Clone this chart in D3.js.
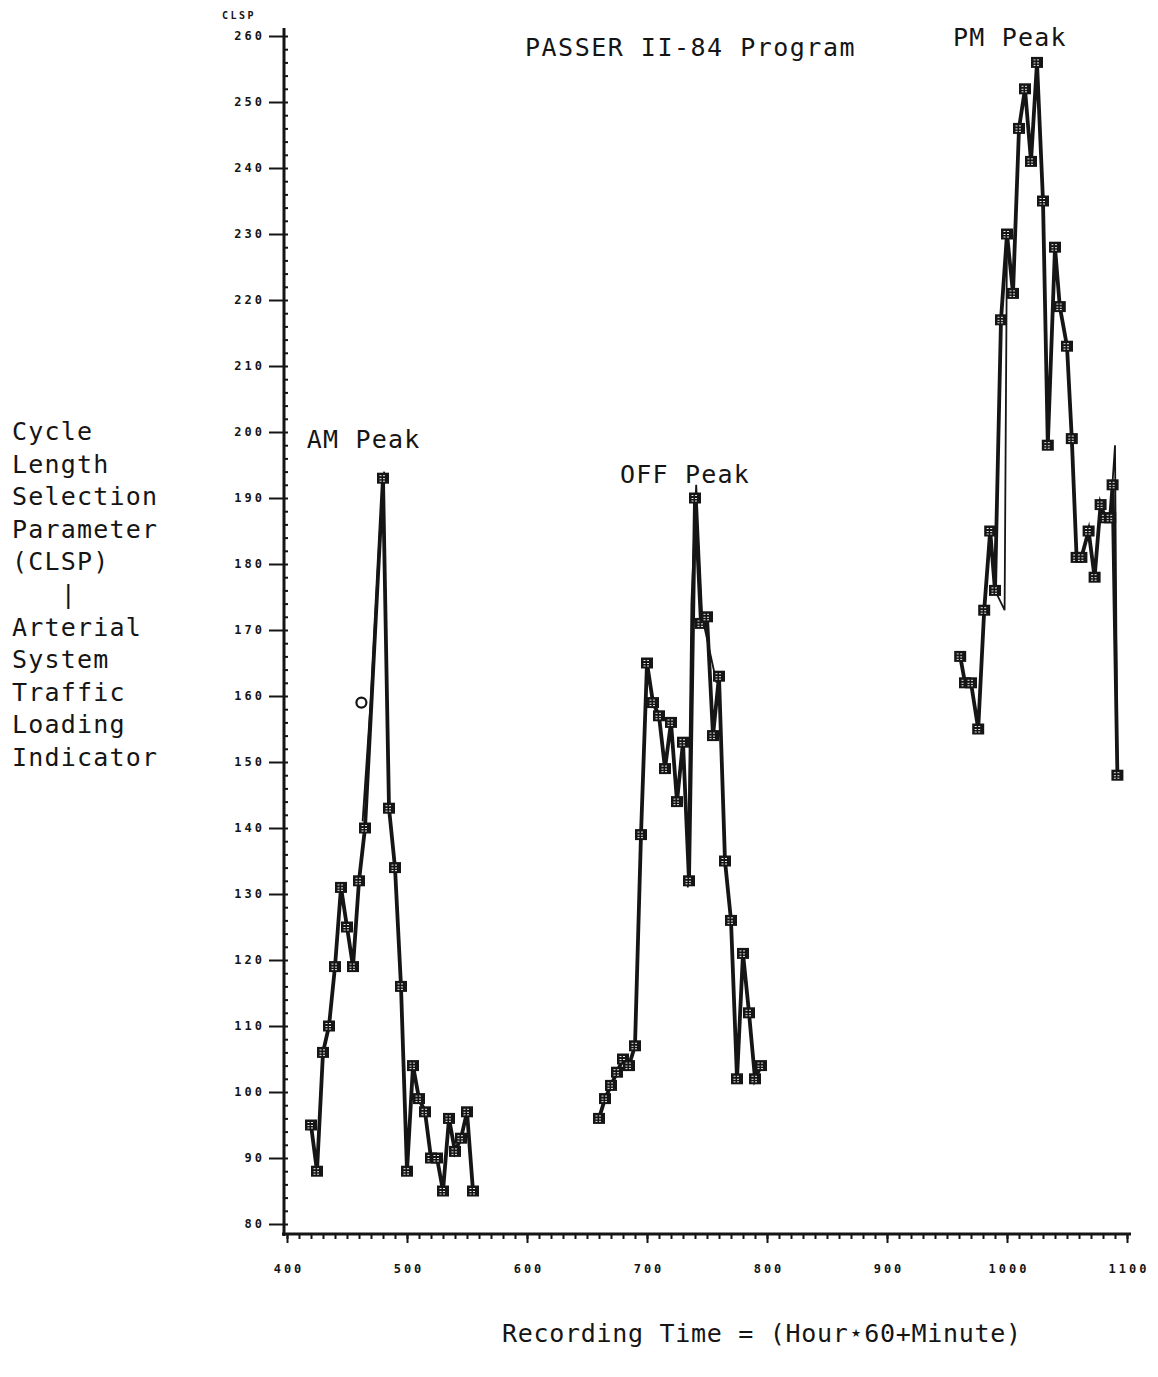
<!DOCTYPE html>
<html><head><meta charset="utf-8">
<script src="https://cdn.jsdelivr.net/npm/d3@7"></script>
<style>
html,body{margin:0;padding:0;background:#fff;}
svg{display:block;}
.big{font-family:"DejaVu Sans Mono",monospace;font-size:25px;fill:#151515;letter-spacing:1.2px;}
.tk text{font-family:"DejaVu Sans Mono",monospace;font-size:12px;font-weight:bold;fill:#151515;letter-spacing:3px;}
</style></head>
<body><svg id="c" width="1158" height="1377"></svg>
<script>
// ---- data (recording time, CLSP) ----
const amTime  = [420,425,430,435,440,445,450,455,460,465,480,485,490,495,500,505,510,515,520,525,530,535,540,545,550,555];
const amCLSP  = [ 95, 88,106,110,119,131,125,119,132,140,193,143,134,116, 88,104, 99, 97, 90, 90, 85, 96, 91, 93, 97, 85];
const offTime = [660,665,670,675,680,685,690,695,700,705,710,715,720,725,730,735,740,745,750,755,760,765,770,775,780,785,790,795];
const offCLSP = [ 96, 99,101,103,105,104,107,139,165,159,157,149,156,144,153,132,190,171,172,154,163,135,126,102,121,112,102,104];
const pmTime  = [961,965,970,976,981,986,990,995,1000,1005,1010,1015,1020,1025,1030,1034,1040,1044,1050,1054,1058,1062,1068,1073,1078,1082,1086,1088,1092];
const pmCLSP  = [166,162,162,155,173,185,176,217, 230, 221, 246, 252, 241, 256, 235, 198, 228, 219, 213, 199, 181, 181, 185, 178, 189, 187, 187, 192, 148];
// second (thin) overplotted trace segments
const thinTime = [[463,470,477,481],[734,737,741,746,758],[990,998,1000],[1086,1090,1092]];
const thinCLSP = [[141,160,184,194],[131,174,192,172,162],[176,173,230],[187,198,148]];
const circleTime = [462], circleCLSP = [159];
const yMajor = [80,90,100,110,120,130,140,150,160,170,180,190,200,210,220,230,240,250,260];
const xMajor = [400,500,600,700,800,900,1000,1100];
const leftLabel = ["Cycle","Length","Selection","Parameter","(CLSP)","   |","Arterial","System","Traffic","Loading","Indicator"];
const peakLabels = ["AM Peak","OFF Peak","PM Peak"];
const peakAt = [[416.5,197.6],[677.5,192.2],[955,258.5]];

const svg = d3.select("#c");
const x = d3.scaleLinear().domain([400,1100]).range([287,1127]);
const y = d3.scaleLinear().domain([80,260]).range([1224,36]);
const ink = "#151515";

// y axis
const yMinor = d3.range(80,261,2);
const gy = svg.append("g").attr("class","tk").attr("transform","translate(284,0)");
gy.call(d3.axisLeft(y).tickValues(yMajor).tickSize(15).tickPadding(7).tickFormat(d3.format("d")));
const gy2 = svg.append("g").attr("transform","translate(284,0)");
gy2.call(d3.axisRight(y).tickValues(yMinor).tickSize(4).tickFormat(""));
// x axis
const xMinor = d3.range(400,1101,10);
const gx = svg.append("g").attr("class","tk").attr("transform","translate(0,1234)");
gx.call(d3.axisBottom(x).tickValues(xMajor).tickSize(9).tickPadding(21).tickFormat(d3.format("d")));
const gx2 = svg.append("g").attr("transform","translate(0,1234)");
gx2.call(d3.axisBottom(x).tickValues(xMinor).tickSize(5).tickFormat(""));
[gy,gy2,gx,gx2].forEach(g=>{g.select(".domain").remove();g.selectAll("line").attr("stroke",ink).attr("stroke-width",2);});
gy.selectAll("text").attr("dx","3");
gx.selectAll("text").attr("dx","1.5");
svg.append("line").attr("x1",284).attr("x2",284).attr("y1",28).attr("y2",1236).attr("stroke",ink).attr("stroke-width",3);
svg.append("line").attr("x1",282).attr("x2",1131).attr("y1",1234).attr("y2",1234).attr("stroke",ink).attr("stroke-width",3);
svg.append("text").attr("x",222).attr("y",19).text("CLSP")
  .attr("font-family","DejaVu Sans Mono").attr("font-size",10).attr("font-weight","bold").attr("letter-spacing",2.5).attr("fill",ink);

// lines
const line = d3.line().x(d=>x(d[0])).y(d=>y(d[1]));
const segs = [[amTime,amCLSP],[offTime,offCLSP],[pmTime,pmCLSP]].map(([t,v])=>t.map((tt,i)=>[tt,v[i]]));
thinTime.forEach((t,k)=>{
  svg.append("path").attr("d",line(t.map((tt,i)=>[tt,thinCLSP[k][i]])))
    .attr("fill","none").attr("stroke",ink).attr("stroke-width",1.8);
});
segs.forEach(s=>{
  svg.append("path").attr("d",line(s)).attr("fill","none").attr("stroke",ink)
    .attr("stroke-width",3.8).attr("stroke-linejoin","miter").attr("stroke-miterlimit",6);
});
// square markers
segs.flat().forEach(d=>{
  const g = svg.append("g").attr("transform",`translate(${x(d[0])},${y(d[1])})`);
  g.append("rect").attr("x",-6).attr("y",-5.5).attr("width",12).attr("height",11).attr("fill",ink);
  [-2.5,0.5,3].forEach(yy=>g.append("line").attr("x1",-3.5).attr("x2",3.5).attr("y1",yy).attr("y2",yy)
     .attr("stroke","#fff").attr("stroke-width",0.9).attr("stroke-dasharray","2,1.5"));
});
circleTime.forEach((t,i)=>{
  svg.append("circle").attr("cx",x(t)).attr("cy",y(circleCLSP[i])).attr("r",5)
    .attr("fill","#fff").attr("stroke",ink).attr("stroke-width",2.2);
});

// texts
svg.append("text").attr("class","big").attr("x",525).attr("y",56).style("letter-spacing","1.5px").text("PASSER II-84 Program");
peakLabels.forEach((t,i)=>svg.append("text").attr("class","big").attr("x",x(peakAt[i][0]))
  .attr("y",y(peakAt[i][1])).text(t));
leftLabel.forEach((t,i)=>svg.append("text").attr("class","big").attr("x",12).attr("y",440+i*32.6)
  .attr("xml:space","preserve").style("white-space","pre").text(t));
svg.append("text").attr("class","big").attr("x",502).attr("y",1342).style("letter-spacing","0.7px").text("Recording Time = (Hour\u22C660+Minute)");
</script></body></html>
